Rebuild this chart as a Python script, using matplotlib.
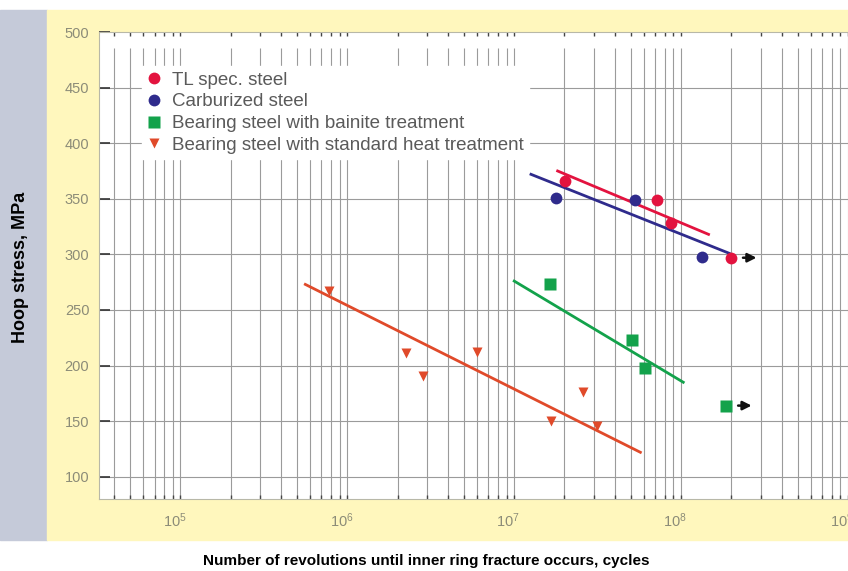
import matplotlib
matplotlib.use("Agg")
import matplotlib.pyplot as plt
from matplotlib.patches import Rectangle
import matplotlib.transforms as mtransforms

plt.rcParams['font.family'] = ['Liberation Sans', 'DejaVu Sans']
plt.rcParams['mathtext.default'] = 'regular'

# data
tl_x = [2.02e7, 7.15e7, 8.7e7, 2.0e8]
tl_y = [366, 349, 328, 297]
carb_x = [1.78e7, 5.3e7, 1.33e8]
carb_y = [351, 349, 298]
bain_x = [1.63e7, 5.1e7, 6.1e7, 1.87e8]
bain_y = [273, 223, 198, 164]
std_x = [7.8e5, 2.25e6, 2.85e6, 6.0e6, 1.66e7, 2.6e7, 3.15e7]
std_y = [267, 211, 191, 212, 150, 176, 146]

# trend lines (end points)
tl_line_x = [1.82e7, 1.46e8]
tl_line_y = [375, 318]
carb_line_x = [1.26e7, 1.94e8]
carb_line_y = [372, 301]
bain_line_x = [1.0e7, 1.03e8]
bain_line_y = [276, 185]
std_line_x = [5.6e5, 5.7e7]
std_line_y = [273, 122]

# run-outs (no failure)
runout_x = [2.0e8, 1.87e8]
runout_y = [297, 164]

labels = ['TL spec. steel', 'Carburized steel',
          'Bearing steel with bainite treatment',
          'Bearing steel with standard heat treatment']
colors = ['#e3133f', '#2f2b8c', '#13a24b', '#e04a2a']
yticks = [100, 150, 200, 250, 300, 350, 400, 450, 500]
xticks = [1e5, 1e6, 1e7, 1e8, 1e9]
xticklabels = ['$10^{5}$', '$10^{6}$', '$10^{7}$', '$10^{8}$', '$10^{9}$']

fig = plt.figure(figsize=(8.48, 5.71), dpi=100)
fig.patches.append(Rectangle((0, 0.0543), 47 / 848, 0.928, transform=fig.transFigure,
                             color='#c5cad9', zorder=-10))
fig.patches.append(Rectangle((47 / 848, 0.0543), 1 - 47 / 848, 0.928, transform=fig.transFigure,
                             color='#fff7bd', zorder=-10))

ax = fig.add_axes([99 / 848, 1 - 499 / 571, 749 / 848, 467 / 571])
ax.set_zorder(1)
ax.set_facecolor('white')
ax.set_xscale('log')
ax.set_xlim(3.25e4, 9.3e8)
ax.set_ylim(80, 500)

# grid
grid_pos = [m * 10 ** k for k in range(4, 9) for m in range(1, 10)]
grid_pos = [g for g in grid_pos if 3.3e4 < g < 9.3e8]
ax.vlines(grid_pos, 80, 486, color='#9b9b9b', lw=0.8, zorder=1)
for yv in yticks[:-1]:
    ax.axhline(yv, color='#9b9b9b', lw=0.8, zorder=1)

# trend lines
for lx, ly, c in [(tl_line_x, tl_line_y, colors[0]), (carb_line_x, carb_line_y, colors[1]),
                  (bain_line_x, bain_line_y, colors[2]), (std_line_x, std_line_y, colors[3])]:
    ax.plot(lx, ly, color=c, lw=2.0, zorder=3)

ax.plot(carb_x, carb_y, 'o', color=colors[1], ms=8.5, mec='none', label=labels[1], zorder=4)
ax.plot(tl_x, tl_y, 'o', color=colors[0], ms=8.5, mec='none', label=labels[0], zorder=4)
ax.plot(bain_x, bain_y, 's', color=colors[2], ms=8, mec='none', label=labels[2], zorder=4)
ax.plot(std_x, std_y, 'v', color=colors[3], ms=7.5, mec='none', label=labels[3], zorder=4)

for rx, ry in zip(runout_x, runout_y):
    ax.annotate('', xy=(rx * 1.47, ry), xytext=(rx * 1.13, ry),
                arrowprops=dict(arrowstyle='-|>', color='#111111', lw=1.8, mutation_scale=13),
                zorder=5)

handles, labs = ax.get_legend_handles_labels()
order = [labs.index(l) for l in labels]
leg = ax.legend([handles[i] for i in order], labels, loc='upper left',
                bbox_to_anchor=(0.057, 0.927), borderaxespad=0, frameon=True,
                facecolor='white', edgecolor='white', framealpha=1, fancybox=False,
                fontsize=13.5, handlelength=0.75, handletextpad=0.55, labelspacing=0.24,
                borderpad=0.3, markerscale=1.0)
for t in leg.get_texts():
    t.set_color('#5a5a5a')
leg.set_zorder(2)

# ticks
ax.set_yticks(yticks)
ax.set_yticklabels([str(v) for v in yticks])
ax.set_xticks(xticks)
ax.set_xticklabels(xticklabels)
ax.set_xticks(grid_pos, minor=True)
ax.xaxis.set_minor_formatter(plt.NullFormatter())
ax.tick_params(axis='y', direction='in', length=8, width=1.2, color='#333333',
               labelsize=10.5, labelcolor='#8c8c78', pad=7)
ax.tick_params(axis='x', which='both', direction='in', length=3, width=1, color='#444444',
               top=True, labelsize=10.5, labelcolor='#8c8c78', pad=9)
offset = mtransforms.ScaledTranslation(-6 / 100, 0, fig.dpi_scale_trans)
for lbl in ax.get_xticklabels():
    lbl.set_transform(lbl.get_transform() + offset)

for s in ax.spines.values():
    s.set_color('#b8b8a8')
    s.set_linewidth(0.8)

fig.text(0.024, 0.532, 'Hoop stress, MPa', rotation=90, ha='center', va='center',
         fontsize=13, fontweight='bold', color='black')
fig.text(0.503, 0.0175, 'Number of revolutions until inner ring fracture occurs, cycles',
         ha='center', va='center', fontsize=11, fontweight='bold', color='black')

fig.savefig('out.png', dpi=100)
